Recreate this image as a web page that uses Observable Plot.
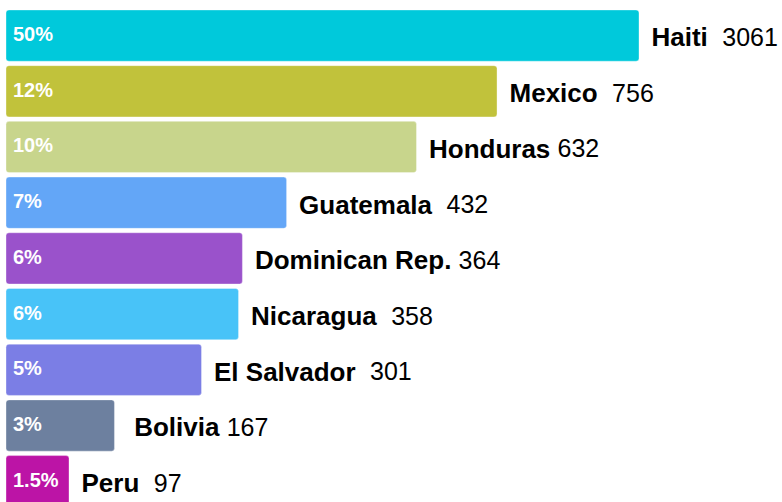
<!DOCTYPE html>
<html>
<head>
<meta charset="utf-8">
<script src="https://cdn.jsdelivr.net/npm/d3@7"></script>
<script src="https://cdn.jsdelivr.net/npm/@observablehq/plot@0.6"></script>
<style>
  html, body { margin: 0; padding: 0; background: #fff; }
  #chart svg { display: block; }
</style>
</head>
<body>
<div id="chart"></div>
<script>
const countries = ["Haiti", "Mexico", "Honduras", "Guatemala", "Dominican Rep.", "Nicaragua", "El Salvador", "Bolivia", "Peru"];
const counts = [3061, 756, 632, 432, 364, 358, 301, 167, 97];
const shares = ["50%", "12%", "10%", "7%", "6%", "6%", "5%", "3%", "1.5%"];
const leads = ["", "", "", "", "", "", "", " ", ""];
const separators = ["  ", "  ", " ", "  ", " ", "  ", "  ", " ", "  "];
const colors = ["#00C9DB", "#C1C23B", "#C8D58C", "#63A6F7", "#9A52CB", "#48C3F8", "#7B7EE5", "#6D809F", "#BC14A6"];

const FONT = "'Liberation Sans', Arial, Helvetica, sans-serif";
const ctx = document.createElement("canvas").getContext("2d");
ctx.font = "bold 26px 'Liberation Sans'";

const data = countries.map((c, i) => ({
  name: c,
  label: leads[i] + c,
  value: counts[i],
  share: shares[i],
  color: colors[i],
  offset: ctx.measureText(leads[i] + c + separators[i]).width
}));

const chart = Plot.plot({
  width: 782,
  height: 502,
  style: { fontFamily: FONT, background: "#fff" },
  x: { domain: [0, 974.6], range: [6, 639], clamp: true, axis: null },
  y: { domain: countries, range: [5.5, 511.3], padding: 0.08, round: false, axis: null },
  color: { type: "identity" },
  marks: [
    Plot.barX(data, {
      x: "value", y: "name", fill: "color", rx: 3,
      stroke: "#fff", strokeOpacity: 0.35, strokeWidth: 1
    }),
    Plot.text(data, {
      x: 0, y: "name", text: "share", fill: "#fff",
      fontSize: 20, fontWeight: "bold", textAnchor: "start", dx: 6.5, dy: -1.5
    }),
    Plot.text(data, {
      x: "value", y: "name", text: "label", fill: "#000",
      fontSize: 26, fontWeight: "bold", textAnchor: "start", dx: 12, dy: 2,
      style: "white-space: pre"
    }),
    ...data.map(d => Plot.text([d], {
      x: "value", y: "name", text: d => String(d.value), fill: "#000",
      fontSize: 25, textAnchor: "start", dx: 12 + d.offset, dy: 2
    }))
  ]
});
chart.querySelectorAll("text").forEach(t => t.setAttribute("xml:space", "preserve"));
chart.querySelectorAll("text").forEach(t => t.style.whiteSpace = "pre");
document.getElementById("chart").appendChild(chart);
</script>
</body>
</html>
